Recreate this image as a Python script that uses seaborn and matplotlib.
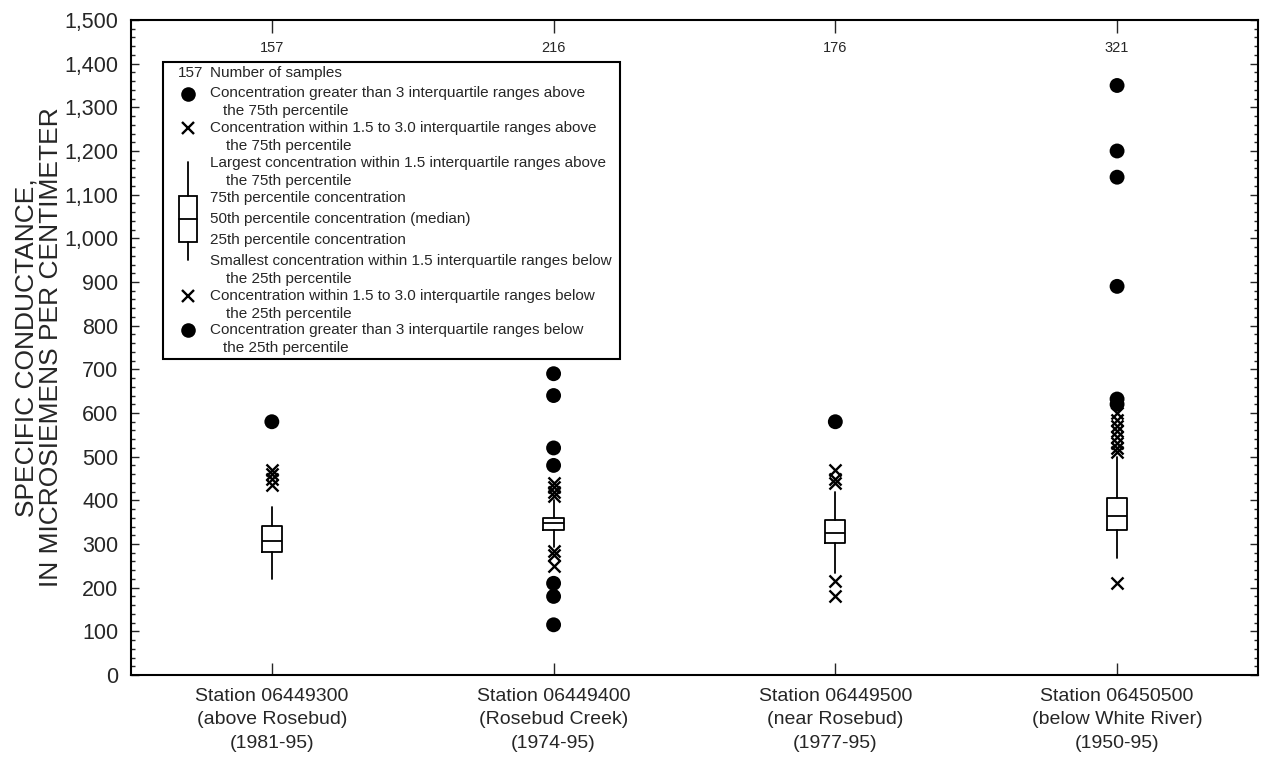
import matplotlib
matplotlib.use("Agg")
import matplotlib.pyplot as plt
from matplotlib.ticker import MultipleLocator, FuncFormatter
from matplotlib.patches import Rectangle
from matplotlib.lines import Line2D
import seaborn as sns
import pandas as pd

# Data
stations = ["Station 06449300\n(above Rosebud)\n(1981-95)",
            "Station 06449400\n(Rosebud Creek)\n(1974-95)",
            "Station 06449500\n(near Rosebud)\n(1977-95)",
            "Station 06450500\n(below White River)\n(1950-95)"]
n_samples = [157, 216, 176, 321]

whisker_low = [221, 294, 234, 267]
q25 = [281, 332, 302, 332]
median = [306, 349, 325, 364]
q75 = [341, 360, 355, 405]
whisker_high = [384, 401, 420, 500]

# outliers between 1.5 and 3 IQR (x) and beyond 3 IQR (dots)
far_out = [[580],
           [690, 640, 520, 480, 210, 180, 115],
           [580],
           [1350, 1200, 1140, 890, 632, 620]]
near_out = [[470, 460, 450, 435],
            [440, 430, 420, 410, 285, 275, 250],
            [470, 450, 440, 215, 180],
            [600, 585, 570, 558, 545, 532, 520, 510, 210]]

sns.set_style("ticks")
plt.rcParams["font.family"] = ["Liberation Sans", "DejaVu Sans"]

fig = plt.figure(figsize=(12.63, 7.57), dpi=100)
ax = fig.add_axes([0.1037, 0.1083, 0.8923, 0.8653])

# boxes
stats = []
for i in range(len(stations)):
    stats.append({"whislo": whisker_low[i], "q1": q25[i], "med": median[i],
                  "q3": q75[i], "whishi": whisker_high[i], "fliers": []})
ax.bxp(stats, positions=range(len(stations)), widths=0.072, showcaps=False,
       showfliers=False,
       boxprops=dict(color="black", linewidth=1.3),
       medianprops=dict(color="black", linewidth=1.3),
       whiskerprops=dict(color="black", linewidth=1.3))

far_df = pd.DataFrame({"pos": [i for i, v in enumerate(far_out) for _ in v],
                       "value": [x for v in far_out for x in v]})
near_df = pd.DataFrame({"pos": [i for i, v in enumerate(near_out) for _ in v],
                        "value": [x for v in near_out for x in v]})
sns.scatterplot(data=far_df, x="pos", y="value", ax=ax, color="black",
                marker="o", s=115, edgecolor="none", zorder=3)
sns.scatterplot(data=near_df, x="pos", y="value", ax=ax, color="black",
                marker="x", s=75, linewidth=1.7, zorder=3)

ax.set_xlim(-0.5, 3.5)
ax.set_ylim(0, 1500)
ax.set_xticks(range(len(stations)))
ax.set_xticklabels(stations, fontsize=14, linespacing=1.5)
ax.set_xlabel("")
ax.yaxis.set_major_locator(MultipleLocator(100))
ax.yaxis.set_minor_locator(MultipleLocator(20))
ax.yaxis.set_major_formatter(FuncFormatter(lambda v, p: f"{int(v):,}"))
ax.tick_params(axis="y", which="major", direction="in", length=6, width=1,
               labelsize=15.5, pad=9, right=True)
ax.tick_params(axis="y", which="minor", direction="in", length=3, width=1,
               right=True)
ax.tick_params(axis="x", which="major", direction="in", length=9, width=1,
               pad=9, top=True)
for s in ax.spines.values():
    s.set_linewidth(1.5)
    s.set_color("black")

ax.set_ylabel("SPECIFIC CONDUCTANCE,\nIN MICROSIEMENS PER CENTIMETER",
              fontsize=19, linespacing=1.07)
ax.yaxis.set_label_coords(-0.06, 0.5)

# sample counts
for i, n in enumerate(n_samples):
    ax.text(i, 0.957, str(n), transform=ax.get_xaxis_transform(),
            ha="center", va="center", fontsize=10.5)

# explanation box (pixel layout -> axes fraction)
def fx(px):
    return (px - 131) / 1127

def fy(py):
    return (675 - py) / 655

ta = ax.transAxes
ax.add_patch(Rectangle((fx(163), fy(359)), fx(620) - fx(163), fy(62) - fy(359),
                       transform=ta, fill=True, facecolor="white",
                       edgecolor="black", linewidth=1.5, zorder=4))

legend_lines = [
    (73, 210, "Number of samples"),
    (93, 210, "Concentration greater than 3 interquartile ranges above"),
    (111, 223, "the 75th percentile"),
    (128, 210, "Concentration within 1.5 to 3.0 interquartile ranges above"),
    (146, 226, "the 75th percentile"),
    (163, 210, "Largest concentration within 1.5 interquartile ranges above"),
    (181, 226, "the 75th percentile"),
    (198, 210, "75th percentile concentration"),
    (219, 210, "50th percentile concentration (median)"),
    (240, 210, "25th percentile concentration"),
    (261, 210, "Smallest concentration within 1.5 interquartile ranges below"),
    (279, 226, "the 25th percentile"),
    (296, 210, "Concentration within 1.5 to 3.0 interquartile ranges below"),
    (314, 226, "the 25th percentile"),
    (330, 210, "Concentration greater than 3 interquartile ranges below"),
    (348, 223, "the 25th percentile"),
]
for py, px, txt in legend_lines:
    ax.text(fx(px), fy(py), txt, transform=ta, ha="left", va="center",
            fontsize=11, zorder=5)
ax.text(fx(203), fy(73), str(n_samples[0]), transform=ta, ha="right",
        va="center", fontsize=11, zorder=5)

for py in (94, 330):
    ax.add_line(Line2D([fx(188)], [fy(py)], transform=ta, marker="o",
                       markersize=10.5, color="black", markeredgewidth=0,
                       linestyle="none", zorder=5))
for py in (128, 296):
    ax.add_line(Line2D([fx(188)], [fy(py)], transform=ta, marker="x",
                       markersize=8, color="black", markeredgewidth=1.7,
                       linestyle="none", zorder=5))
ax.add_line(Line2D([fx(188), fx(188)], [fy(162), fy(196)], transform=ta,
                   color="black", linewidth=1.3, zorder=5))
ax.add_line(Line2D([fx(188), fx(188)], [fy(242), fy(260)], transform=ta,
                   color="black", linewidth=1.3, zorder=5))
ax.add_line(Line2D([fx(179), fx(197)], [fy(219), fy(219)], transform=ta,
                   color="black", linewidth=1.3, zorder=5))
ax.add_patch(Rectangle((fx(179), fy(242)), fx(197) - fx(179), fy(196) - fy(242),
                       transform=ta, fill=False, edgecolor="black",
                       linewidth=1.3, zorder=5))

fig.savefig("out.png", dpi=100)
